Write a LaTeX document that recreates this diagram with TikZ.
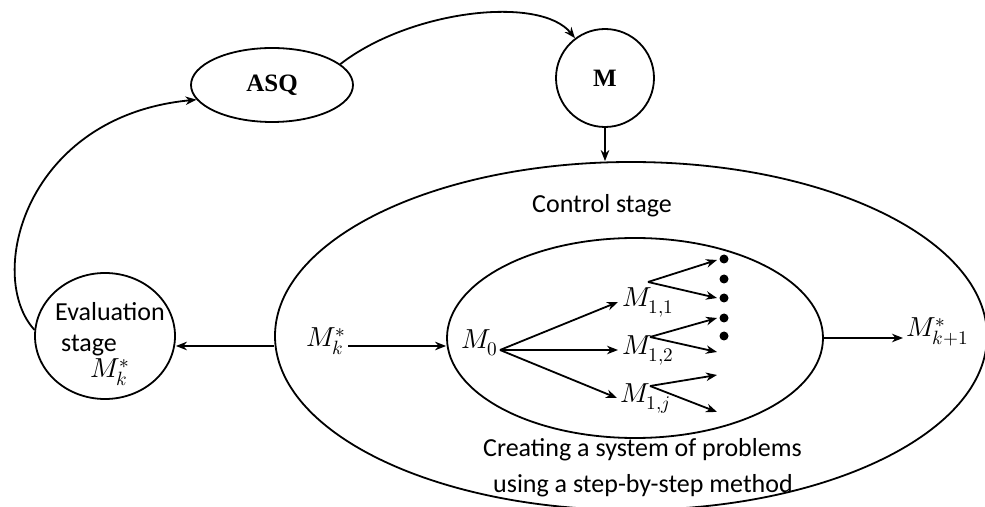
\documentclass[tikz,border=0pt]{standalone}
\usepackage{fontspec}
\usepackage{unicode-math}
\setmainfont{Carlito}
\setmathfont{Latin Modern Math}
\newfontfamily\timesfont{Liberation Serif}
\usetikzlibrary{arrows.meta,shapes.geometric}
\tikzset{
  ln/.style={line width=1.8pt},
  arr/.style={ln, -{Stealth[length=11pt,width=8.5pt,inset=3.5pt]}},
  lbl/.style={inner sep=0pt, anchor=base west, font=\fontsize{26}{30}\selectfont},
  mlbl/.style={inner sep=0pt, anchor=base west, font=\fontsize{27.5}{30}\selectfont},
  bold/.style={font=\timesfont\bfseries\fontsize{25}{28}\selectfont},
  shp/.style={ln, draw, inner sep=0pt},
  dotc/.style={circle, fill, inner sep=0pt, minimum size=9pt}
}
\begin{document}
\begin{tikzpicture}[x=1pt,y=1pt]
\useasboundingbox (0,0) rectangle (985,506);
\clip (0,0) rectangle (985,506);
% main shapes
\node[shp, ellipse, minimum width=712pt, minimum height=348pt] (outer) at (631,170) {};
\node[shp, ellipse, minimum width=376pt, minimum height=200pt] (inner) at (635,168) {};
\node[shp, ellipse, minimum width=162pt, minimum height=74pt, bold] (asq) at (272,421) {ASQ};
\node[shp, circle, minimum size=98pt, bold] (m) at (605,428) {M};
\node[shp, ellipse, minimum width=140pt, minimum height=126pt] (eval) at (105,170) {};
% labels
\node[lbl] (evt1) at (55,185) {Evaluation};
\node[lbl] (evt2) at (61,154) {stage};
\node[mlbl] (evm) at (90,128) {$M_k^*$};
\node[lbl] (ctrl) at (532,293) {Control stage};
\node[lbl] (cr1) at (483,49) {Creating a system of problems};
\node[lbl] (cr2) at (493,14) {using a step-by-step method};
\node[mlbl] (mk) at (306,159) {$M_k^*$};
\node[mlbl] (m0) at (461,157) {$M_0$};
\node[mlbl] (m11) at (622,199) {$M_{1,1}$};
\node[mlbl] (m12) at (622,151) {$M_{1,2}$};
\node[mlbl] (m1j) at (620,103) {$M_{1,j}$};
\node[mlbl] (mk1) at (906,169) {$M_{k+1}^*$};
% coordinates for branch arrows
\coordinate (m0o) at (500,156);
\coordinate (t11) at (618,204);
\coordinate (t12) at (618,156);
\coordinate (t1j) at (617,108);
\coordinate (o11) at (648,224);
\coordinate (o12) at (650,169);
\coordinate (o1j) at (650,120);
\coordinate (a1) at (717,246);
\coordinate (a2) at (717,208);
\coordinate (b1) at (717,188);
\coordinate (b2) at (717,154);
\coordinate (c1) at (717,131);
\coordinate (c2) at (717,94);
% dots
\node[dotc] (d1) at (724,247) {};
\node[dotc] (d2) at (724,227) {};
\node[dotc] (d3) at (724,208) {};
\node[dotc] (d4) at (724,188) {};
\node[dotc] (d5) at (724,170) {};
% connectors
\draw[arr] (asq.17) .. controls (410,496) and (540,511) .. (m.127);
\draw[arr] (eval.175) .. controls (-15,230) and (25,390) .. (asq.191);
\draw[arr] (m.south) -- (m.south |- outer.north);
\draw[arr] ([yshift=-10pt]outer.west) -- ([yshift=-10pt]eval.east);
\draw[arr] (348,160) -- ([yshift=-8pt]inner.west);
\draw[arr] (inner.east) -- (903,168);
\draw[arr] (m0o) -- (t11);
\draw[arr] (m0o) -- (t12);
\draw[arr] (m0o) -- (t1j);
\draw[arr] (o11) -- (a1);
\draw[arr] (o11) -- (a2);
\draw[arr] (o12) -- (b1);
\draw[arr] (o12) -- (b2);
\draw[arr] (o1j) -- (c1);
\draw[arr] (o1j) -- (c2);
\end{tikzpicture}
\end{document}
